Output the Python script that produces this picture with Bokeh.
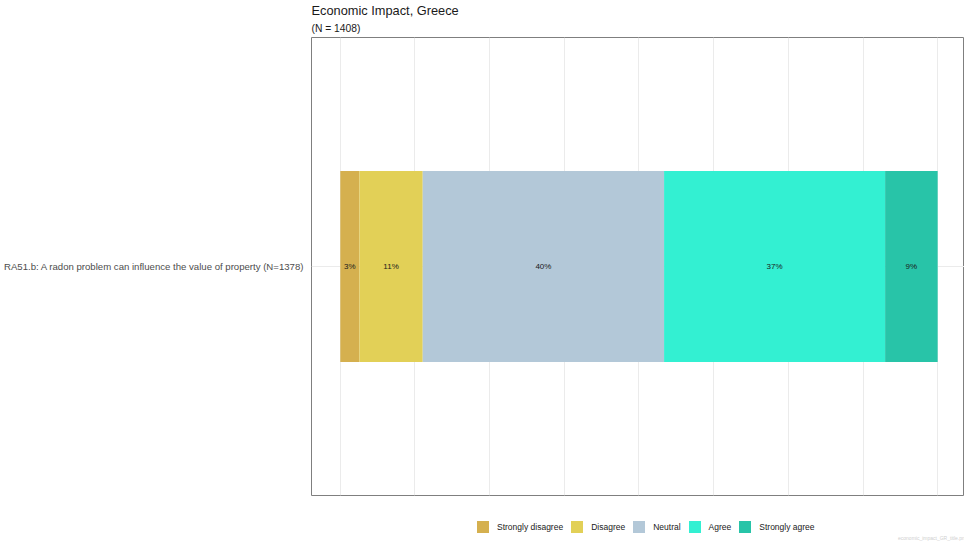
from bokeh.plotting import figure, ColumnDataSource
from bokeh.models import FixedTicker, Title, Range1d, Label
from bokeh.layouts import column
from bokeh.core.properties import value
from bokeh.embed import file_html
from bokeh.resources import INLINE
import numpy as np

# donnees (en %)
categories = ["Strongly disagree", "Disagree", "Neutral", "Agree", "Strongly agree"]
percents = [3.2, 10.6, 40.4, 37.0, 8.8]
colors = ["#D5B04F", "#E2D057", "#B3C8D8", "#33F0D2", "#28C4A8"]
question = "RA51.b: A radon problem can influence the value of property (N=1378)"
titre = "Economic Impact, Greece"
sous_titre = "(N = 1408)"
fichier = "economic_impact_GR_title.png"
grid_ticks = [0, 12.5, 25, 37.5, 50, 62.5, 75, 87.5, 100]

FONT = "Liberation Sans"

data = {"y": [1]}
for c, v in zip(categories, percents):
    data[c] = [v]
source = ColumnDataSource(data)

## Graphique principal

p = figure(width=964, height=496, output_backend="svg", toolbar_location=None,
           x_range=Range1d(-4.82, 104.49), y_range=Range1d(0.4, 1.6),
           min_border_left=306, min_border_right=0, min_border_bottom=1, min_border_top=0)

p.hbar_stack(categories, y="y", height=0.5, color=colors, source=source, line_width=0)

# etiquettes au centre de chaque segment
ends = np.cumsum(percents)
centers = ends - np.array(percents) / 2
labels = ["%d%%" % round(v) for v in percents]
p.text(x=centers, y=[1] * len(centers), text=labels, text_align="center",
       text_baseline="middle", text_font_size="8px", text_color="#1a1a1a",
       text_font=value(FONT))

# titres
p.add_layout(Title(text=sous_titre, text_font_size="10.3px", text_font_style="normal",
                   text_font=FONT, text_color="#1a1a1a", standoff=7, offset=0), "above")
p.add_layout(Title(text=titre, text_font_size="12.8px", text_font_style="normal",
                   text_font=FONT, text_color="#1a1a1a", standoff=0, offset=0), "above")

p.xaxis.visible = False
p.yaxis.ticker = FixedTicker(ticks=[1])
p.yaxis.major_label_overrides = {1: question}
p.yaxis.axis_line_color = None
p.yaxis.major_tick_line_color = None
p.yaxis.minor_tick_line_color = None
p.yaxis.major_tick_out = 0
p.yaxis.major_label_standoff = 7
p.yaxis.major_label_text_font_size = "9.6px"
p.yaxis.major_label_text_color = "#4d4d4d"
p.yaxis.major_label_text_font = FONT

p.xgrid.ticker = FixedTicker(ticks=grid_ticks)
p.ygrid.ticker = FixedTicker(ticks=[1])
p.grid.grid_line_color = "#ebebeb"
p.grid.grid_line_width = 1
p.outline_line_color = "#7f7f7f"
p.outline_line_width = 1

## Bande de legende sous le graphique (cadre aligne sur celui du graphique)

lg = figure(width=964, height=48, output_backend="svg", toolbar_location=None,
            x_range=Range1d(0, 1), y_range=Range1d(10, 11),
            x_axis_location=None, y_axis_location=None,
            min_border_left=0, min_border_right=0, min_border_bottom=0, min_border_top=0)
lg.outline_line_color = None
lg.grid.visible = False
# memes barres, hors de la zone visible : seules les cases de legende apparaissent
lg.hbar_stack(categories, y="y", height=0.5, color=colors, source=source,
              legend_label=categories, line_width=0)

leg = lg.legend[0]
leg.orientation = "horizontal"
leg.location = (164, 10)
leg.padding = 0
leg.margin = 0
leg.spacing = 6
leg.glyph_width = 15
leg.glyph_height = 15
leg.label_height = 15
leg.label_standoff = 7
leg.label_text_font_size = "8.5px"
leg.label_text_font = FONT
leg.label_text_color = "#1a1a1a"
leg.border_line_color = None
leg.background_fill_alpha = 0

lg.add_layout(Label(x=656, y=7, x_units="screen", y_units="screen", text=fichier,
                    text_font_size="5px", text_align="right", text_baseline="middle",
                    text_color="#d0d0d0", text_font=FONT))

layout = column(p, lg, spacing=0)

open("out.html", "w").write(file_html(layout, INLINE))
